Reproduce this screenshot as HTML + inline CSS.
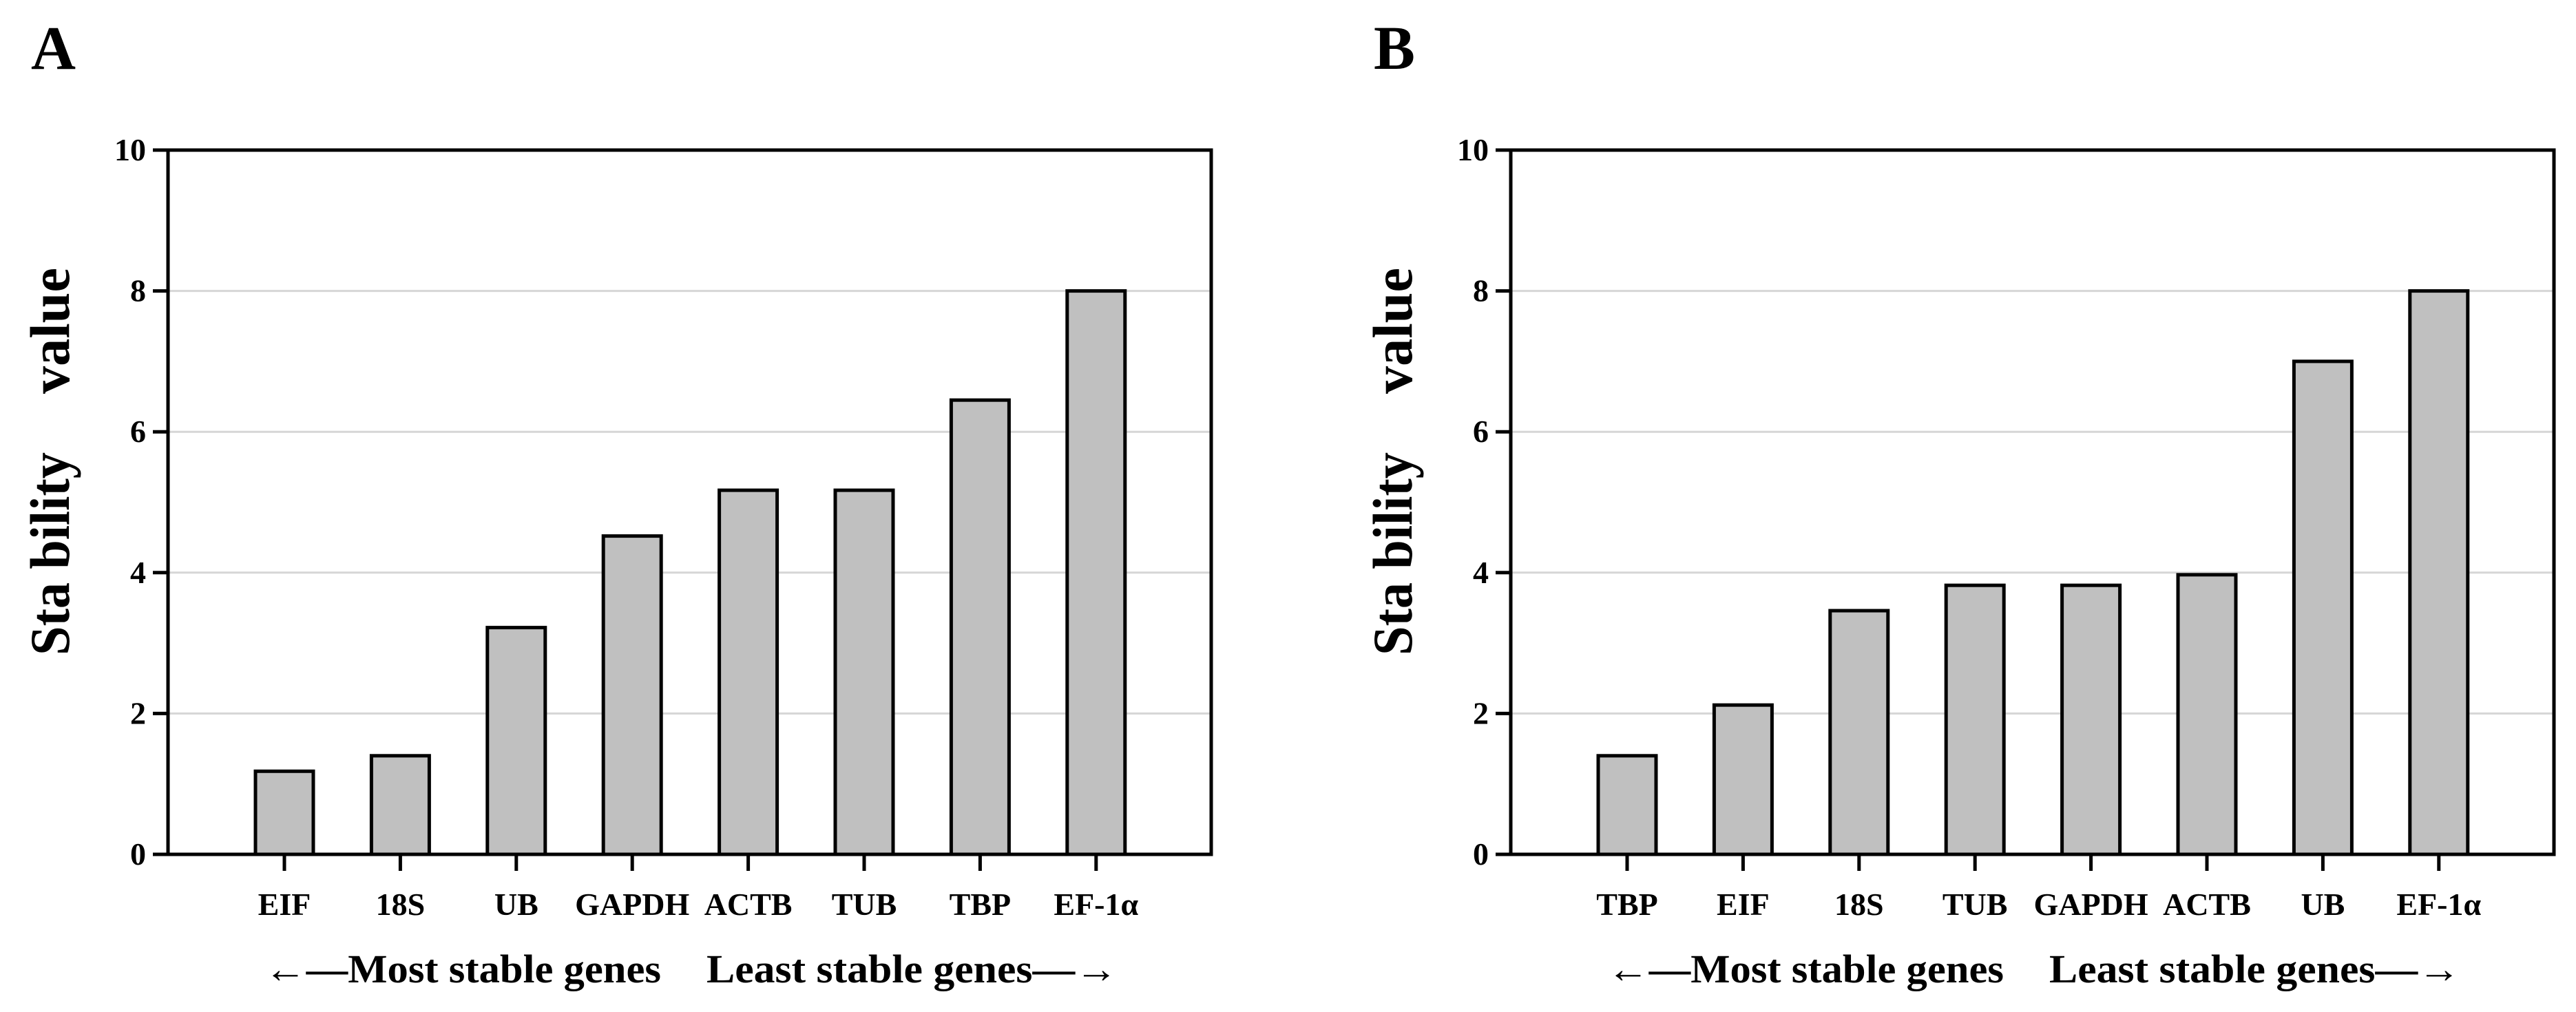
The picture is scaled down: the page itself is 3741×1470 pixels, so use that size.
<!DOCTYPE html>
<html><head><meta charset="utf-8"><style>
html,body{margin:0;padding:0;background:#fff}
svg{display:block}
text{font-family:"Liberation Serif",serif;font-weight:bold;fill:#000}
</style></head><body>
<svg id="fig" width="3741" height="1470" viewBox="0 0 3741 1470" xmlns="http://www.w3.org/2000/svg"></svg>
<script>
const catsA = ["EIF","18S","UB","GAPDH","ACTB","TUB","TBP","EF-1α"];
const valsA = [1.18,1.4,3.22,4.52,5.17,5.17,6.45,8.0];
const catsB = ["TBP","EIF","18S","TUB","GAPDH","ACTB","UB","EF-1α"];
const valsB = [1.4,2.12,3.46,3.82,3.82,3.97,7.0,8.0];
const yTicks = [0,2,4,6,8,10];
const gridVals = [2,4,6,8];
const panelLetters = ["A","B"];

const NS="http://www.w3.org/2000/svg";
const svg=document.getElementById('fig');
function mk(tag,attrs,parent){const e=document.createElementNS(NS,tag);for(const k in attrs)e.setAttribute(k,attrs[k]);(parent||svg).appendChild(e);return e;}

function panel(ox,letter,cats,vals,key){
  const g=mk('g',{});
  
  
  const L=ox+244,R=ox+1759,T=218,B=1241;
  const y=v=>B-(v/10)*(B-T);
  const x=i=>L+169+i*168.4;
  let t=mk('text',{x:ox+45,y:100,'font-size':90},g);t.textContent=letter;
  
  
  gridVals.forEach(v=>{
    const l=mk('line',{x1:L,x2:R,y1:y(v),y2:y(v),stroke:'#d6d6d6','stroke-width':3},g);
    
    
  });
  vals.forEach((v,i)=>{
    const r=mk('rect',{x:x(i)-42,y:y(v),width:84,height:B-y(v),fill:'#c0c0c0',stroke:'#000','stroke-width':5},g);
    
    
    const tk=mk('line',{x1:x(i),x2:x(i),y1:B,y2:B+24,stroke:'#000','stroke-width':5},g);
    
    
    const lb=mk('text',{x:x(i),y:1329,'font-size':46,'text-anchor':'middle'},g);
    lb.textContent=cats[i];
    
    
  });
  const box=mk('rect',{x:L,y:T,width:R-L,height:B-T,fill:'none',stroke:'#000','stroke-width':5},g);
  
  
  yTicks.forEach(v=>{
    const tk=mk('line',{x1:L-22,x2:L,y1:y(v),y2:y(v),stroke:'#000','stroke-width':5},g);
    
    
    const lb=mk('text',{x:L-32,y:y(v)+15,'font-size':46,'text-anchor':'end'},g);
    lb.textContent=v;
    
    
  });
  const yt=mk('g',{transform:`translate(${ox+100},0) rotate(-90)`},g);
  
  
  let s1=mk('text',{x:-952,y:0,'font-size':82,textLength:295,lengthAdjust:'spacingAndGlyphs'},yt);s1.textContent='Sta bility';
  let s2=mk('text',{x:-572,y:0,'font-size':82,textLength:183,lengthAdjust:'spacingAndGlyphs'},yt);s2.textContent='value';
  const cap=mk('g',{},g);
  
  
  let c1=mk('text',{x:ox+384,y:1427,'font-size':58,textLength:576,lengthAdjust:'spacingAndGlyphs'},cap);c1.textContent='←—Most stable genes';
  let c2=mk('text',{x:ox+1026,y:1427,'font-size':58,textLength:597,lengthAdjust:'spacingAndGlyphs'},cap);c2.textContent='Least stable genes—→';
}
panel(0,panelLetters[0],catsA,valsA,'a');
panel(1950,panelLetters[1],catsB,valsB,'b');
</script>
</body></html>
